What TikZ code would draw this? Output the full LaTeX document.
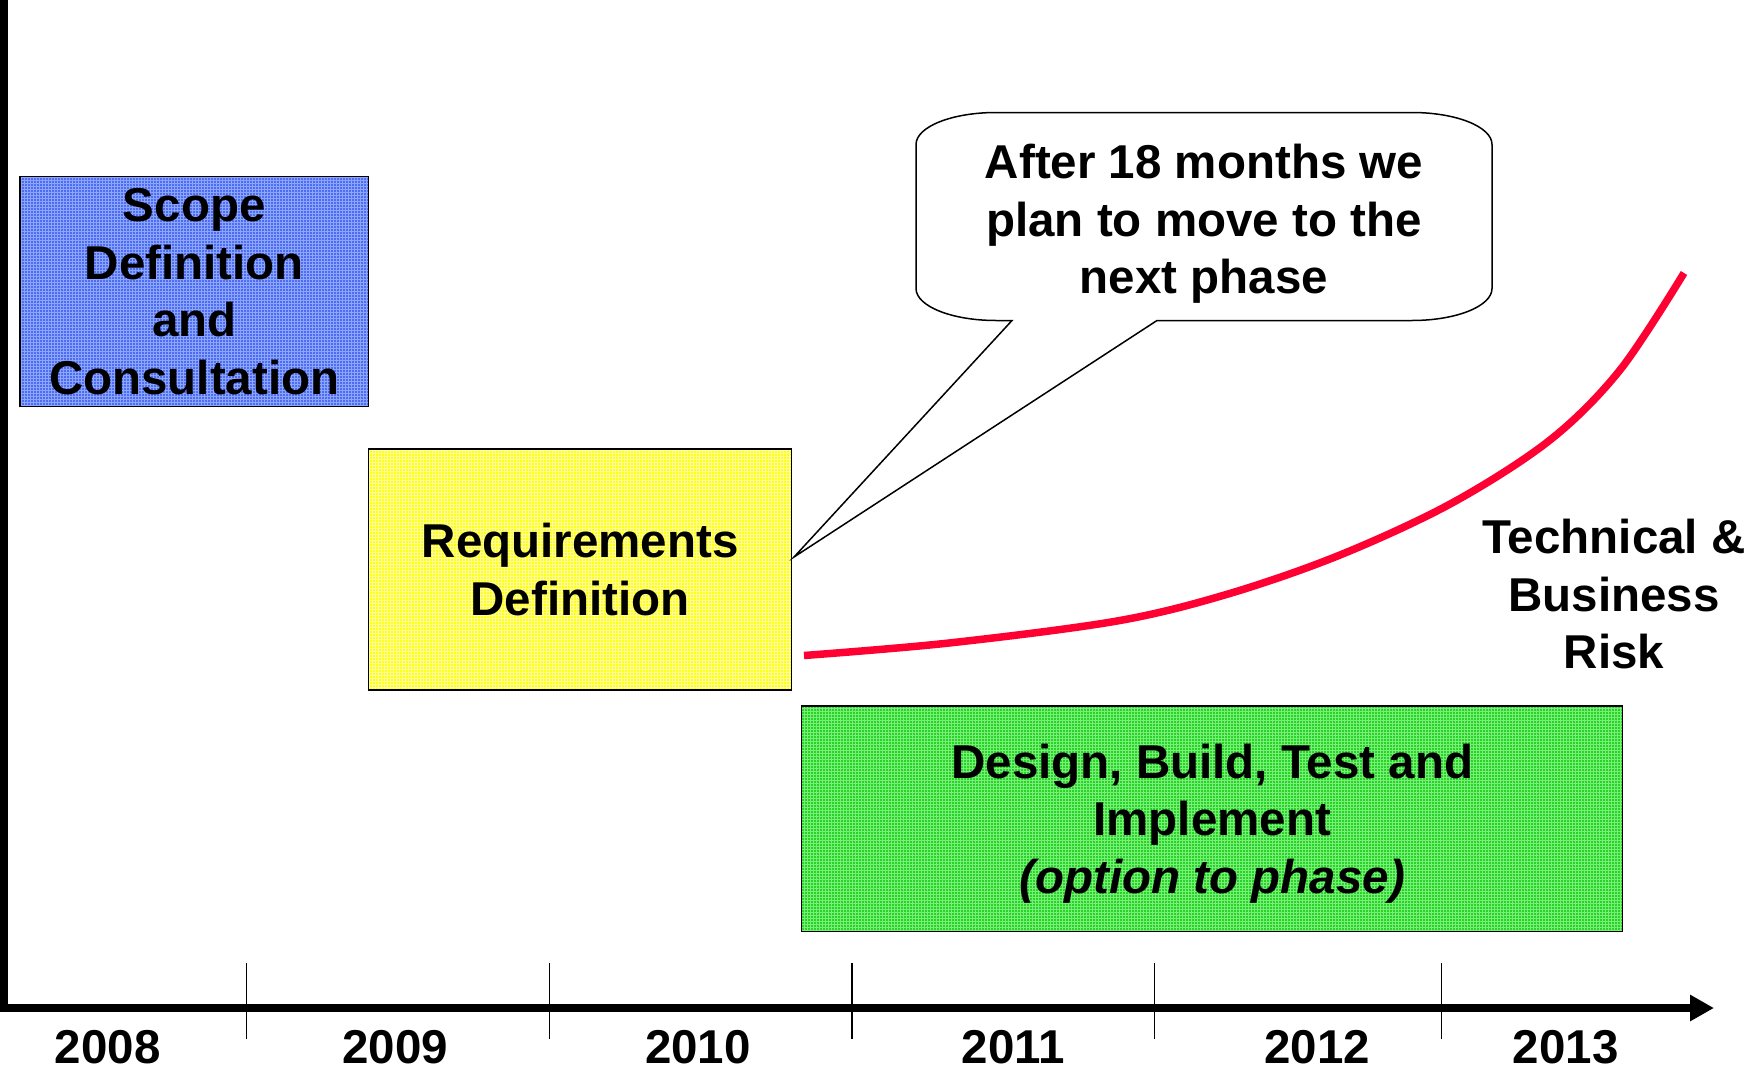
\documentclass[tikz,border=0pt]{standalone}
\usepackage{fontspec}
\setmainfont{Liberation Sans}
\usetikzlibrary{patterns,arrows.meta}
\definecolor{blueF}{RGB}{78,108,240}
\definecolor{blueL}{RGB}{140,165,255}
\definecolor{yellowF}{RGB}{255,255,20}
\definecolor{yellowL}{RGB}{255,255,160}
\definecolor{greenF}{RGB}{40,210,40}
\definecolor{greenL}{RGB}{120,240,120}
\definecolor{riskred}{RGB}{255,0,51}
\begin{document}
\begin{tikzpicture}[x=1pt,y=-1pt,
  lbl/.style={font=\fontsize{47.5}{57.5}\selectfont\bfseries, align=center, inner sep=0pt, text depth=0pt},
  phase/.style={draw=black, line width=1.5pt, lbl},
  yearlbl/.style={font=\fontsize{47.5}{57.5}\selectfont\bfseries, anchor=base, inner sep=0pt},
  tickline/.style={line width=1.3pt},
  axisline/.style={line width=7.5pt, line join=miter},
  callout/.style={draw=black, line width=1.5pt, fill=white},
  risk/.style={draw=riskred, line width=7.5pt},
]
\useasboundingbox (0,0) rectangle (1751,1068);

% phases
\node[phase, minimum width=348.5pt, minimum height=230pt,
      preaction={fill=blueF}, pattern=grid, pattern color=blueL]
  (scope) at (194.25,291.5) {Scope\\Definition\\and\\Consultation};
\node[phase, minimum width=423pt, minimum height=241pt,
      preaction={fill=yellowF}, pattern=grid, pattern color=yellowL]
  (req) at (580.1,569.5) {Requirements\\Definition};
\node[phase, minimum width=821pt, minimum height=225.5pt,
      preaction={fill=greenF}, pattern=grid, pattern color=greenL]
  (build) at (1212.2,818.5) {Design, Build, Test and\\Implement\\\textit{(option to phase)}};

% callout
\coordinate (tailL) at (1012,320.5);
\coordinate (tailtip) at (794,557);
\coordinate (tailR) at (1157,320.5);
\draw[callout] (tailL) -- (tailtip) -- (tailR) -- (1412,320.5)
  .. controls (1456.2,320.5) and (1492,306.2) .. (1492,288.5)
  -- (1492,144.5)
  .. controls (1492,126.8) and (1456.2,112.5) .. (1412,112.5)
  -- (996,112.5)
  .. controls (951.8,112.5) and (916,126.8) .. (916,144.5)
  -- (916,288.5)
  .. controls (916,306.2) and (951.8,320.5) .. (996,320.5)
  -- cycle;
\node[lbl] (note) at (1204,219) {After 18 months we\\plan to move to the\\next phase};

% risk curve
\draw[risk] plot[smooth, tension=0.55] coordinates {(804,655.5) (949,643) (1117,621) (1228,594) (1340,555) (1452,503) (1550,440) (1620,370) (1684,273)};
\node[lbl] (risklbl) at (1614,594) {Technical \&\\Business\\Risk};

% axes
\coordinate (axtop) at (3.75,0);
\coordinate (origin) at (3.75,1008);
\coordinate (axtip) at (1714,1008);
\draw[axisline, -{Triangle[length=24pt,width=25pt]}] (axtop) -- (origin) -- (axtip);
\foreach \x in {246.8,549.4,852.1,1154.7,1441.6}
  \draw[tickline] (\x,962.6) -- (\x,1038.5);

% years
\node[yearlbl] (y2008) at (107.8,1063) {2008};
\node[yearlbl] (y2009) at (395.3,1063) {2009};
\node[yearlbl] (y2010) at (698,1063) {2010};
\node[yearlbl] (y2011) at (1013.4,1063) {2011};
\node[yearlbl] (y2012) at (1317,1063) {2012};
\node[yearlbl] (y2013) at (1565.6,1063) {2013};
\end{tikzpicture}
\end{document}
